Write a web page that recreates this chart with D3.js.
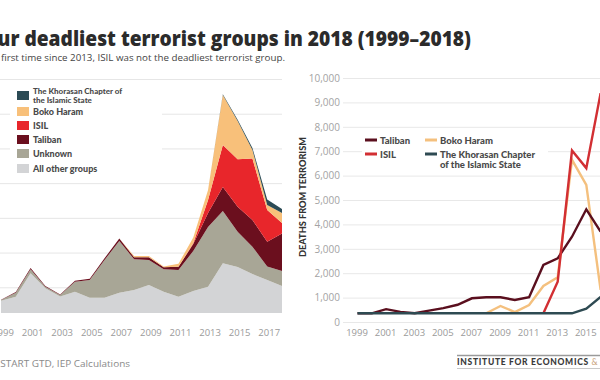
<!DOCTYPE html>
<html><head><meta charset="utf-8">
<script src="https://cdn.jsdelivr.net/npm/d3@7"></script>
<style>body{margin:0;background:#fff;} svg{display:block;}</style>
</head><body><svg id="c" width="600" height="380"></svg>
<script>
// ---------- DATA ----------
const years = [1999,2000,2001,2002,2003,2004,2005,2006,2007,2008,2009,2010,2011,2012,2013,2014,2015,2016,2017,2018];
const tickYears = [1999,2001,2003,2005,2007,2009,2011,2013,2015,2017];

// Left: stacked deaths by group
const otherDeaths    = [1770,2350,5720,3560,2380,3070,2200,2200,2930,3310,4030,3070,2350,3170,3790,7160,6630,5620,4750,3890];
const unknownDeaths  = [100,580,580,230,215,1440,2550,5430,7450,4420,3600,3230,3850,5760,8600,7540,5090,3930,1950,2160];
const talibanDeaths  = [50,80,170,100,80,150,200,250,350,300,400,300,450,1000,2020,3460,3600,3850,3570,5400];
const isilDeaths     = [0,0,0,0,0,0,0,0,0,0,0,0,0,100,1870,6050,6830,8860,4570,1510];
const bokoDeaths     = [0,0,0,0,0,0,0,0,0,190,190,115,430,860,1440,7200,5520,1220,720,1440];
const khorasanDeaths = [0,0,0,0,0,0,0,0,0,0,0,0,0,0,0,100,150,300,800,580];

const stackNames = ["All other groups","Unknown","Taliban","ISIL","Boko Haram","The Khorasan Chapter of the Islamic State"];
const stackColors = ["#d3d4d6","#a8a696","#6b0f1e","#e8262b","#f8c07a","#2b4b55"];

// Right: line chart (visible years)
const lineYears = [1999,2000,2001,2002,2003,2004,2005,2006,2007,2008,2009,2010,2011,2012,2013,2014,2015,2016];
const lineTaliban  = [0,0,170,60,0,110,210,350,615,656,656,545,656,1980,2254,3140,4262,3344];
const lineIsil     = [null,null,null,null,null,null,null,null,null,null,null,null,null,0,1295,6670,5950,9020];
const lineBoko     = [null,null,null,null,null,null,null,null,null,0,300,50,340,1120,1475,6290,5265,960];
const lineKhorasan = [0,0,0,0,0,0,0,0,0,0,0,0,0,0,0,0,190,670];
const yTicksRight = [0,1000,2000,3000,4000,5000,6000,7000,8000,9000,10000];
const yTicksLeft = [5000,10000,15000,20000,25000,30000,35000];

// ---------- DRAW ----------
const svg = d3.select("#c");
const font = "'Open Sans', 'DejaVu Sans', sans-serif";
const boldFont = "Lato, 'Open Sans', sans-serif";

// Title & subtitle
svg.append("text").attr("x", -25).attr("y", 46)
  .attr("font-family", font).attr("font-weight", 800).attr("font-size", 21)
  .attr("fill", "#2b2b2b").attr("textLength", 496).attr("lengthAdjust", "spacingAndGlyphs")
  .text("Four deadliest terrorist groups in 2018 (1999–2018)");
svg.append("text").attr("x", -34).attr("y", 61)
  .attr("font-family", font).attr("font-size", 9.5)
  .attr("fill", "#444").attr("textLength", 319).attr("lengthAdjust", "spacingAndGlyphs")
  .text("For the first time since 2013, ISIL was not the deadliest terrorist group.");

// ---- Left stacked area ----
const xL = d3.scaleLinear().domain([1999, 2018]).range([1, 282]);
const yL = d3.scaleLinear().domain([0, 35000]).range([322, 79]);

const gL = svg.append("g");
gL.append("g")
  .call(d3.axisRight(yL).tickValues(yTicksLeft).tickSize(282).tickFormat(""))
  .call(g => g.select(".domain").remove())
  .call(g => g.selectAll("line").attr("stroke", "#e6e6e6"));

const table = years.map((yr, i) => ({
  year: yr,
  "All other groups": otherDeaths[i],
  "Unknown": unknownDeaths[i],
  "Taliban": talibanDeaths[i],
  "ISIL": isilDeaths[i],
  "Boko Haram": bokoDeaths[i],
  "The Khorasan Chapter of the Islamic State": khorasanDeaths[i]
}));
const series = d3.stack().keys(stackNames)(table);
const area = d3.area().x(d => xL(d.data.year)).y0(d => yL(d[0])).y1(d => yL(d[1]));
const plotL = gL.append("g").attr("transform", "translate(0,-9)");
plotL.selectAll("path.layer").data(series).join("path")
  .attr("class", "layer").attr("d", area)
  .attr("fill", (d, i) => stackColors[i]);

gL.append("g").attr("transform", "translate(1.5,322)")
  .call(d3.axisBottom(xL).tickValues(tickYears).tickFormat(d3.format("d")).tickSize(0).tickPadding(7))
  .call(g => g.select(".domain").remove())
  .call(g => g.selectAll("text").attr("font-family", font).attr("font-size", 9.5).attr("fill", "#9a9a9a"));

// Left legend
const legL = svg.append("g");
legL.append("rect").attr("x", 10).attr("y", 83).attr("width", 152).attr("height", 96).attr("fill", "#fff");
const legItems = [
  {lines: ["The Khorasan Chapter of", "the Islamic State"], color: stackColors[5], y: 91},
  {lines: ["Boko Haram"], color: stackColors[4], y: 107},
  {lines: ["ISIL"], color: stackColors[3], y: 121},
  {lines: ["Taliban"], color: stackColors[2], y: 135},
  {lines: ["Unknown"], color: stackColors[1], y: 149},
  {lines: ["All other groups"], color: stackColors[0], y: 164}
];
legItems.forEach(it => {
  legL.append("rect").attr("x", 17).attr("y", it.y).attr("width", 12).attr("height", 9).attr("fill", it.color);
  const two = it.lines.length > 1;
  it.lines.forEach((ln, j) => {
    legL.append("text").attr("font-family", boldFont).attr("font-weight", 900)
      .attr("font-size", two ? 8 : 9).attr("fill", "#4a4a4a")
      .attr("x", 33).attr("y", it.y + (two ? 3 : 7.5) + j * 9).text(ln);
  });
});

// Source left
svg.append("text").attr("x", -37).attr("y", 367)
  .attr("font-family", font).attr("font-size", 9).attr("fill", "#8a8a8a")
  .attr("textLength", 167).attr("lengthAdjust", "spacingAndGlyphs")
  .text("Source: START GTD, IEP Calculations");

// ---- Right line chart ----
const xR = d3.scaleLinear().domain([1999, 2018]).range([357.5, 629.2]);
const yR = d3.scaleLinear().domain([0, 10000]).range([322, 78]);
const gR = svg.append("g");

gR.append("g").attr("transform", "translate(343,0)")
  .call(d3.axisRight(yR).tickValues(yTicksRight).tickSize(257).tickFormat(""))
  .call(g => g.select(".domain").remove())
  .call(g => g.selectAll("line").attr("stroke", "#e8e8e8"));

gR.append("g").attr("transform", "translate(343,0)")
  .call(d3.axisLeft(yR).tickValues(yTicksRight).tickSize(0).tickPadding(3).tickFormat(d3.format(",")))
  .call(g => g.select(".domain").remove())
  .call(g => g.selectAll("text").attr("font-family", font).attr("font-size", 10).attr("fill", "#a3a3a3"));

gR.append("g").attr("transform", "translate(-1,322)")
  .call(d3.axisBottom(xR).tickValues(tickYears).tickFormat(d3.format("d")).tickSize(0).tickPadding(7))
  .call(g => g.select(".domain").remove())
  .call(g => g.selectAll("text").attr("font-family", font).attr("font-size", 9.5).attr("fill", "#9a9a9a"));

svg.append("text").attr("transform", "translate(306,197) rotate(-90)")
  .attr("text-anchor", "middle").attr("font-family", boldFont).attr("font-weight", 900)
  .attr("font-size", 9).attr("fill", "#333")
  .attr("textLength", 120).attr("lengthAdjust", "spacingAndGlyphs")
  .text("DEATHS FROM TERRORISM");

// Right legend
const legR = svg.append("g");
legR.append("rect").attr("x", 362).attr("y", 132).attr("width", 186).attr("height", 40).attr("fill", "#fff");

const lineSeries = [
  {name: "Boko Haram", values: lineBoko, color: "#f4c07e"},
  {name: "Taliban", values: lineTaliban, color: "#5a0f1e"},
  {name: "ISIL", values: lineIsil, color: "#d22f33"},
  {name: "The Khorasan Chapter of the Islamic State", values: lineKhorasan, color: "#2e4a52"}
];
const line = d3.line().defined(d => d[1] !== null).x(d => xR(d[0])).y(d => yR(d[1]));
const plotR = gR.append("g").attr("transform", "translate(0,-8.7)");
plotR.selectAll("path.ln").data(lineSeries).join("path")
  .attr("class", "ln")
  .attr("d", s => line(lineYears.map((yr, i) => [yr, s.values[i]])))
  .attr("fill", "none").attr("stroke", s => s.color).attr("stroke-width", 2.4)
  .attr("stroke-linejoin", "miter");

const legRItems = [
  {lines: ["Taliban"], color: "#5a0f1e", x: 365, y: 140},
  {lines: ["Boko Haram"], color: "#f4c07e", x: 425, y: 140},
  {lines: ["ISIL"], color: "#d22f33", x: 365, y: 154},
  {lines: ["The Khorasan Chapter", "of the Islamic State"], color: "#2e4a52", x: 425, y: 154}
];
legRItems.forEach(it => {
  legR.append("line").attr("x1", it.x).attr("x2", it.x + 12).attr("y1", it.y).attr("y2", it.y)
    .attr("stroke", it.color).attr("stroke-width", 3);
  it.lines.forEach((ln, j) => {
    legR.append("text").attr("font-family", boldFont).attr("font-weight", 900)
      .attr("font-size", 9.5).attr("fill", "#4a4a4a")
      .attr("x", it.x + 15).attr("y", it.y + 3.5 + j * 10.5).text(ln);
  });
});

// Footer right
svg.append("line").attr("x1", 457).attr("x2", 600).attr("y1", 355.5).attr("y2", 355.5).attr("stroke", "#9a9a9a").attr("stroke-width", 1.5);
svg.append("line").attr("x1", 457).attr("x2", 600).attr("y1", 368.5).attr("y2", 368.5).attr("stroke", "#c8c8c8").attr("stroke-width", 1.2);
const ft = svg.append("text").attr("x", 457).attr("y", 365)
  .attr("font-family", boldFont).attr("font-weight", 900).attr("font-size", 8.5)
  .attr("letter-spacing", 0.7).attr("fill", "#3a3a3a");
ft.append("tspan").text("INSTITUTE FOR ECONOMICS ");
ft.append("tspan").attr("fill", "#c9a27a").attr("font-weight", 400).text("&");
ft.append("tspan").text(" PEACE");
</script></body></html>
